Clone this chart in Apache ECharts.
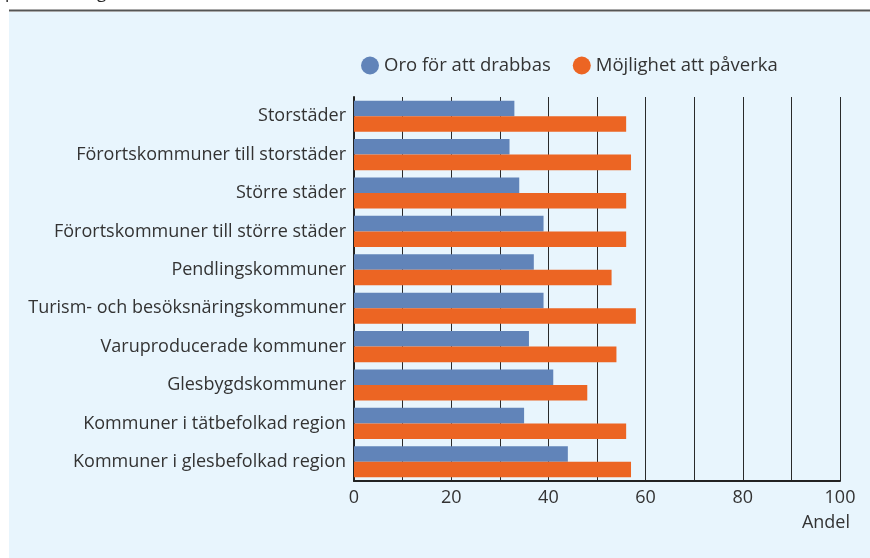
<!DOCTYPE html>
<html>
<head>
<meta charset="utf-8">
<script src="https://cdn.jsdelivr.net/npm/echarts@6/dist/echarts.min.js"></script>
<style>
html,body{margin:0;padding:0;background:#fff;}
#chart{width:870px;height:558px;}
</style>
</head>
<body>
<div id="chart"></div>
<script>
// data
const categories = [
  'Storstäder',
  'Förortskommuner till storstäder',
  'Större städer',
  'Förortskommuner till större städer',
  'Pendlingskommuner',
  'Turism- och besöksnäringskommuner',
  'Varuproducerade kommuner',
  'Glesbygdskommuner',
  'Kommuner i tätbefolkad region',
  'Kommuner i glesbefolkad region'
];
const oro = [33, 32, 34, 39, 37, 39, 36, 41, 35, 44];
const paverka = [56, 57, 56, 56, 53, 58, 54, 48, 56, 57];
const seriesNames = ['Oro för att drabbas', 'Möjlighet att påverka'];

const font = '"Open Sans", sans-serif';
const txt = '#333';

let chart = echarts.init(document.getElementById('chart'));
chart.setOption({
  backgroundColor: '#fff',
  textStyle: {fontFamily: font},
  graphic: [
    {type: 'rect', shape: {x: 9, y: 12, width: 861, height: 546}, style: {fill: '#e8f5fd'}, z: -10},
    {type: 'line', shape: {x1: 9, y1: 10.5, x2: 870, y2: 10.5}, style: {stroke: '#555', lineWidth: 2}, z: -9},
    {type: 'text', left: 5, top: -15, style: {text: 'personal i egen kommun inom vissa år', font: '17px ' + font, fill: '#222'}, z: -8}
  ],
  legend: {
    left: 356,
    top: 51,
    icon: 'circle',
    itemWidth: 18,
    itemHeight: 18,
    itemGap: 22,
    textStyle: {fontSize: 18.5, color: txt, fontFamily: font},
    data: seriesNames
  },
  grid: {left: 354, right: 30, top: 97, bottom: 77},
  xAxis: {
    type: 'value',
    min: 0,
    max: 100,
    interval: 10,
    name: 'Andel',
    nameLocation: 'end',
    nameGap: 10,
    nameTextStyle: {fontSize: 18, color: txt, align: 'right', verticalAlign: 'top', padding: [33, 0, 0, 0]},
    axisLine: {show: true, lineStyle: {color: '#222', width: 2}},
    axisTick: {show: false},
    axisLabel: {
      fontSize: 18, color: txt, margin: 8,
      formatter: v => (v % 20 === 0 ? v : '')
    },
    splitLine: {show: true, lineStyle: {color: '#2a2a2a', width: 1}}
  },
  yAxis: {
    type: 'category',
    data: categories,
    inverse: true,
    axisLine: {show: true, lineStyle: {color: '#222', width: 2}},
    axisTick: {show: false},
    axisLabel: {fontSize: 18, color: txt, margin: 8, padding: [7, 0, 0, 0]}
  },
  series: [
    {name: seriesNames[0], type: 'bar', data: oro, itemStyle: {color: '#6184b9'}, barGap: '0%', barCategoryGap: '19%'},
    {name: seriesNames[1], type: 'bar', data: paverka, itemStyle: {color: '#ec6523'}, barGap: '0%', barCategoryGap: '19%'}
  ]
});
</script>
</body>
</html>
